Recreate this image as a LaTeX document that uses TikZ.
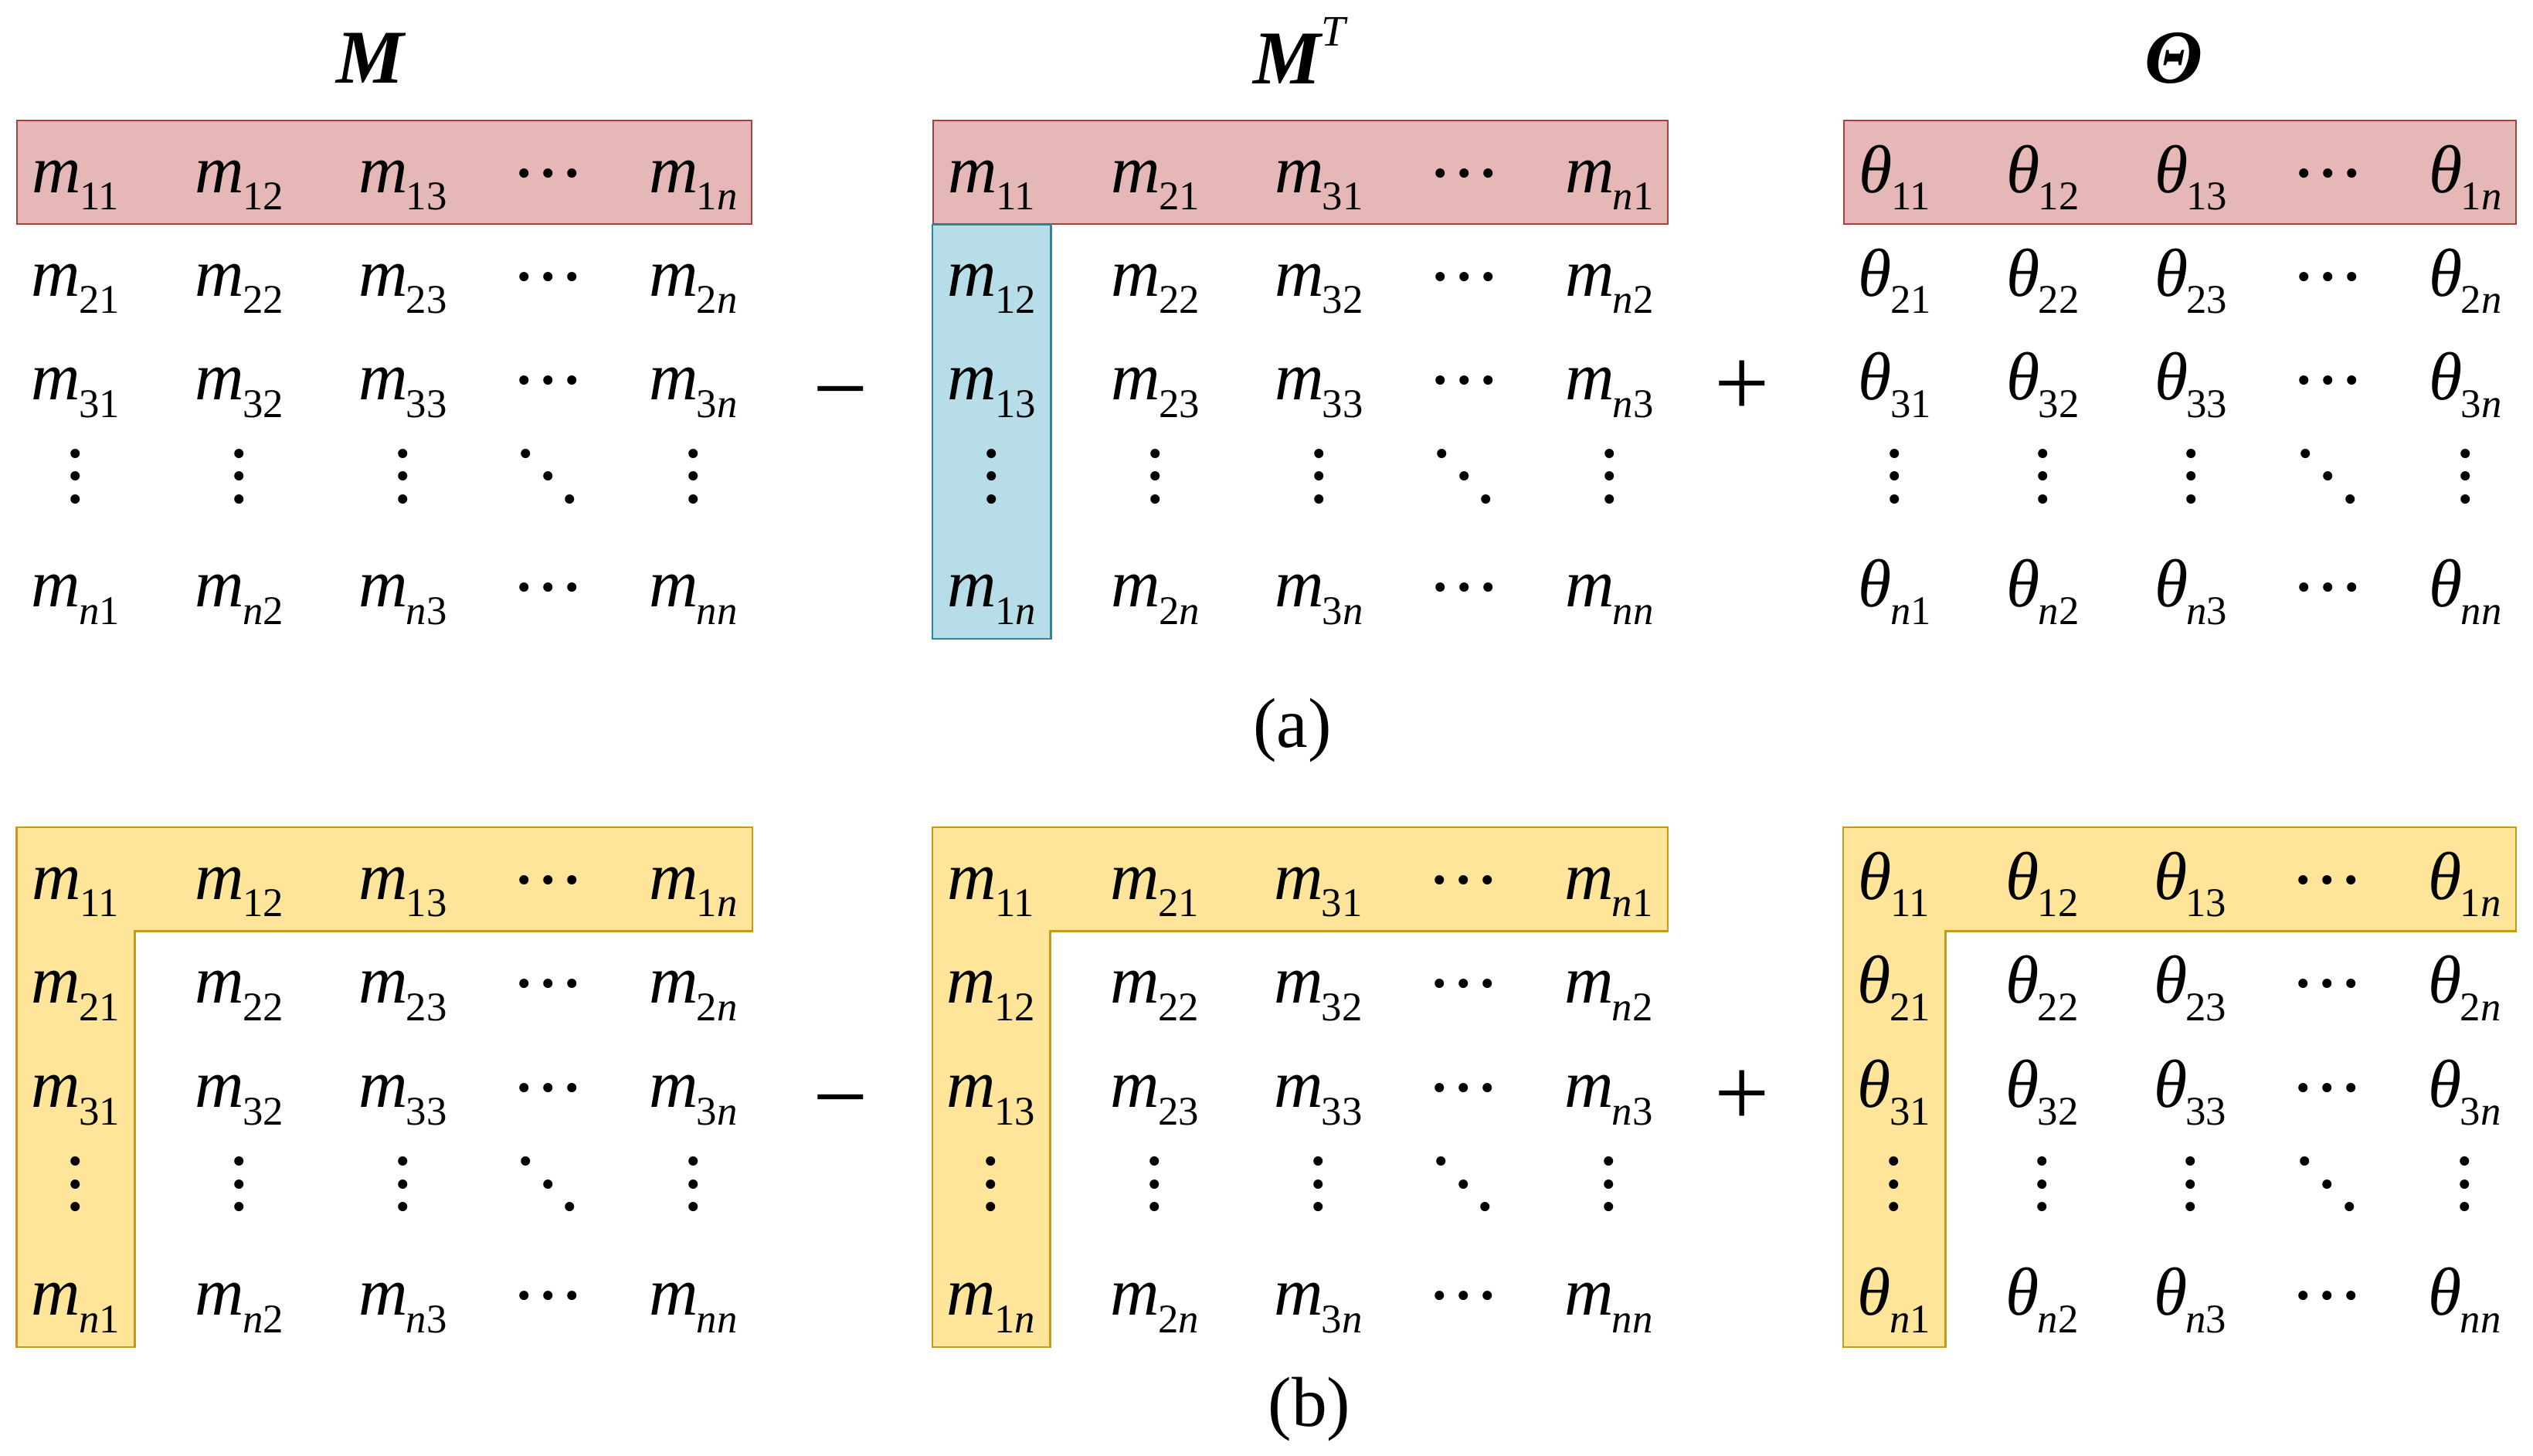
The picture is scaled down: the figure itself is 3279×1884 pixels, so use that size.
\documentclass[tikz,border=0pt]{standalone}
\usepackage{fontspec}
\setmainfont{Liberation Serif}
\usepackage{graphicx}
\usetikzlibrary{matrix, fit, positioning, backgrounds}

\definecolor{redfill}{HTML}{E5B8B7}
\definecolor{redline}{HTML}{A5403C}
\definecolor{bluefill}{HTML}{B7DDE8}
\definecolor{blueline}{HTML}{31859C}
\definecolor{goldfill}{HTML}{FFE599}
\definecolor{goldline}{HTML}{C49A1C}

% entries and dots
\newcommand\elem[2]{{\itshape #1}\kern-0.02em\raisebox{-6.5pt}{\fontsize{15}{15}\selectfont #2}}
\newcommand\nn{\textit{n}}
\newcommand\dotmark{\textbf{.}}
\newcommand\rowdots{\scalebox{2.1}{\fontsize{10}{12}\selectfont\raisebox{2.7pt}{\dotmark\kern1.7pt\dotmark\kern1.7pt\dotmark}}}
\newcommand\coldots{\scalebox{2.1}{\fontsize{10}{12}\selectfont\rlap{\raisebox{8pt}{\dotmark}}\rlap{\raisebox{4pt}{\dotmark}}\dotmark}}
\newcommand\diagdots{\scalebox{2.1}{\fontsize{10}{12}\selectfont\raisebox{8pt}{\dotmark}\kern1.4pt\raisebox{4pt}{\dotmark}\kern1.4pt\dotmark}}

\begin{document}
\begin{tikzpicture}[
    x=0.01cm, y=-0.01cm,
    mat/.style={
            matrix of nodes,
            row sep={1.34cm,between origins},
            column sep={2.115cm,between origins},
            nodes={
                    anchor=base,
                    inner sep=0pt,
                    minimum width=1.5cm,
                    text height=0.92cm,
                    text depth=0.40cm,
                    font=\fontsize{25}{30}\selectfont
                }
        },
    thetamat/.style={mat, column sep={1.915cm,between origins}, nodes={minimum width=1.3cm}},
    redrow/.style={draw=redline, fill=redfill, line width=0.6pt, inner sep=0pt},
    bluecol/.style={draw=blueline, fill=bluefill, line width=0.6pt},
    goldL/.style={draw=goldline, fill=goldfill, line width=0.6pt},
    area/.style={inner sep=0pt},
    title/.style={inner sep=0pt, font=\fontsize{28}{30}\selectfont\bfseries\itshape},
    op/.style={inner sep=0pt, anchor=base, font=\fontsize{36}{40}\selectfont},
    caption/.style={inner sep=0pt, anchor=base, font=\fontsize{26}{30}\selectfont},
    ]
    \useasboundingbox (0,0) rectangle (3279,1884);

    % --- (a) ---
    \matrix (Mtop) [mat, matrix anchor=Mtop-1-1.base] at (98,249) {
        \elem{m}{11} & \elem{m}{12} & \elem{m}{13} &[-2.35mm] \rowdots &[-2.35mm] \elem{m}{1\nn} \\
        \elem{m}{21} & \elem{m}{22} & \elem{m}{23} &[-2.35mm] \rowdots &[-2.35mm] \elem{m}{2\nn} \\
        \elem{m}{31} & \elem{m}{32} & \elem{m}{33} &[-2.35mm] \rowdots &[-2.35mm] \elem{m}{3\nn} \\
        \coldots & \coldots & \coldots &[-2.35mm] \diagdots &[-2.35mm] \coldots \\
        \elem{m}{\nn1} & \elem{m}{\nn2} & \elem{m}{\nn3} &[-2.35mm] \rowdots &[-2.35mm] \elem{m}{\nn\nn} \\
    };
    \matrix (MTtop) [mat, matrix anchor=MTtop-1-1.base] at (1284,249) {
        \elem{m}{11} & \elem{m}{21} & \elem{m}{31} &[-2.35mm] \rowdots &[-2.35mm] \elem{m}{\nn1} \\
        \elem{m}{12} & \elem{m}{22} & \elem{m}{32} &[-2.35mm] \rowdots &[-2.35mm] \elem{m}{\nn2} \\
        \elem{m}{13} & \elem{m}{23} & \elem{m}{33} &[-2.35mm] \rowdots &[-2.35mm] \elem{m}{\nn3} \\
        \coldots & \coldots & \coldots &[-2.35mm] \diagdots &[-2.35mm] \coldots \\
        \elem{m}{1\nn} & \elem{m}{2\nn} & \elem{m}{3\nn} &[-2.35mm] \rowdots &[-2.35mm] \elem{m}{\nn\nn} \\
    };
    \matrix (Thtop) [thetamat, matrix anchor=Thtop-1-1.base] at (2453,249) {
        \elem{θ}{11} & \elem{θ}{12} & \elem{θ}{13} &[-1.4mm] \rowdots &[-1.4mm] \elem{θ}{1\nn} \\
        \elem{θ}{21} & \elem{θ}{22} & \elem{θ}{23} &[-1.4mm] \rowdots &[-1.4mm] \elem{θ}{2\nn} \\
        \elem{θ}{31} & \elem{θ}{32} & \elem{θ}{33} &[-1.4mm] \rowdots &[-1.4mm] \elem{θ}{3\nn} \\
        \coldots & \coldots & \coldots &[-1.4mm] \diagdots &[-1.4mm] \coldots \\
        \elem{θ}{\nn1} & \elem{θ}{\nn2} & \elem{θ}{\nn3} &[-1.4mm] \rowdots &[-1.4mm] \elem{θ}{\nn\nn} \\
    };

    \node[title, above=0.48cm of Mtop-1-3.north, xshift=-0.42cm] (Mtitle) {M};
    \node[title, above=0.47cm of MTtop-1-3.north, xshift=-0.25cm] (MTtitle) {M\raisebox{14pt}{\fontsize{16}{16}\selectfont\mdseries T}};
    \node[title, above=0.47cm of Thtop-1-3.north, xshift=-0.22cm] (Thtitle) {Θ};

    \node[op] (minusA) at (1088,545) {−};
    \node[op] (plusA) at (2255,538) {+};
    \node[caption] (capA) at (1673,967) {(a)};

    % --- (b) ---
    \matrix (Mbot) [mat, row sep={1.345cm,between origins}, matrix anchor=Mbot-1-1.base] at (98,1164) {
        \elem{m}{11} & \elem{m}{12} & \elem{m}{13} &[-2.35mm] \rowdots &[-2.35mm] \elem{m}{1\nn} \\
        \elem{m}{21} & \elem{m}{22} & \elem{m}{23} &[-2.35mm] \rowdots &[-2.35mm] \elem{m}{2\nn} \\
        \elem{m}{31} & \elem{m}{32} & \elem{m}{33} &[-2.35mm] \rowdots &[-2.35mm] \elem{m}{3\nn} \\
        \coldots & \coldots & \coldots &[-2.35mm] \diagdots &[-2.35mm] \coldots \\
        \elem{m}{\nn1} & \elem{m}{\nn2} & \elem{m}{\nn3} &[-2.35mm] \rowdots &[-2.35mm] \elem{m}{\nn\nn} \\
    };
    \matrix (MTbot) [mat, row sep={1.345cm,between origins}, matrix anchor=MTbot-1-1.base] at (1283,1164) {
        \elem{m}{11} & \elem{m}{21} & \elem{m}{31} &[-2.35mm] \rowdots &[-2.35mm] \elem{m}{\nn1} \\
        \elem{m}{12} & \elem{m}{22} & \elem{m}{32} &[-2.35mm] \rowdots &[-2.35mm] \elem{m}{\nn2} \\
        \elem{m}{13} & \elem{m}{23} & \elem{m}{33} &[-2.35mm] \rowdots &[-2.35mm] \elem{m}{\nn3} \\
        \coldots & \coldots & \coldots &[-2.35mm] \diagdots &[-2.35mm] \coldots \\
        \elem{m}{1\nn} & \elem{m}{2\nn} & \elem{m}{3\nn} &[-2.35mm] \rowdots &[-2.35mm] \elem{m}{\nn\nn} \\
    };
    \matrix (Thbot) [thetamat, row sep={1.345cm,between origins}, matrix anchor=Thbot-1-1.base] at (2452,1164) {
        \elem{θ}{11} & \elem{θ}{12} & \elem{θ}{13} &[-1.4mm] \rowdots &[-1.4mm] \elem{θ}{1\nn} \\
        \elem{θ}{21} & \elem{θ}{22} & \elem{θ}{23} &[-1.4mm] \rowdots &[-1.4mm] \elem{θ}{2\nn} \\
        \elem{θ}{31} & \elem{θ}{32} & \elem{θ}{33} &[-1.4mm] \rowdots &[-1.4mm] \elem{θ}{3\nn} \\
        \coldots & \coldots & \coldots &[-1.4mm] \diagdots &[-1.4mm] \coldots \\
        \elem{θ}{\nn1} & \elem{θ}{\nn2} & \elem{θ}{\nn3} &[-1.4mm] \rowdots &[-1.4mm] \elem{θ}{\nn\nn} \\
    };

    \node[op] (minusB) at (1088,1462) {−};
    \node[op] (plusB) at (2255,1457) {+};
    \node[caption] (capB) at (1695,1846) {(b)};

    % --- Highlighted rows and columns ---
    \begin{scope}[on background layer]
        \node[redrow, fit=(Mtop-1-1) (Mtop-1-5)] (Mtoprow) {};
        \node[redrow, fit=(MTtop-1-1) (MTtop-1-5)] (MTtoprow) {};
        \node[area, fit=(MTtop-1-1) (MTtop-5-1)] (MTtopcol) {};
        \draw[bluecol] (MTtoprow.south west) rectangle (MTtopcol.south east);
        \node[redrow, fit=(Thtop-1-1) (Thtop-1-5)] (Thtoprow) {};

        \node[area, fit=(Mbot-1-1) (Mbot-1-5)] (Mbotrow) {};
        \node[area, fit=(Mbot-1-1) (Mbot-5-1)] (Mbotcol) {};
        \draw[goldL] (Mbotrow.north west) -- (Mbotrow.north east) -- (Mbotrow.south east) -- (Mbotcol.east |- Mbotrow.south) -- (Mbotcol.south east) -- (Mbotcol.south west) -- cycle;
        \node[area, fit=(MTbot-1-1) (MTbot-1-5)] (MTbotrow) {};
        \node[area, fit=(MTbot-1-1) (MTbot-5-1)] (MTbotcol) {};
        \draw[goldL] (MTbotrow.north west) -- (MTbotrow.north east) -- (MTbotrow.south east) -- (MTbotcol.east |- MTbotrow.south) -- (MTbotcol.south east) -- (MTbotcol.south west) -- cycle;
        \node[area, fit=(Thbot-1-1) (Thbot-1-5)] (Thbotrow) {};
        \node[area, fit=(Thbot-1-1) (Thbot-5-1)] (Thbotcol) {};
        \draw[goldL, yshift=1mm] (Thbotrow.north west) -- (Thbotrow.north east) -- (Thbotrow.south east) -- (Thbotcol.east |- Thbotrow.south) -- (Thbotcol.south east) -- (Thbotcol.south west) -- cycle;
    \end{scope}

\end{tikzpicture}
\end{document}
